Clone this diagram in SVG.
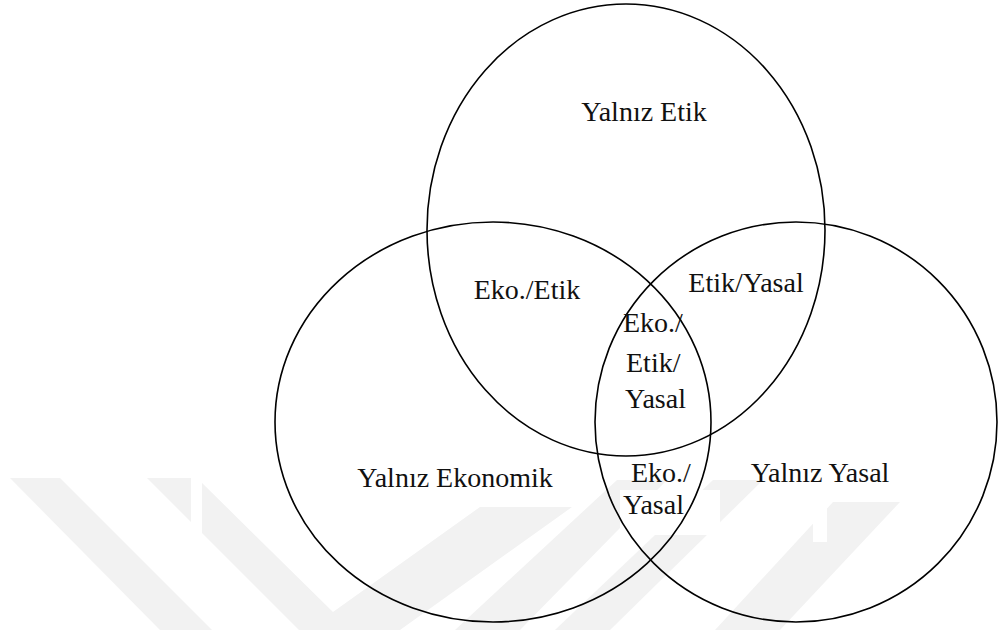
<svg xmlns="http://www.w3.org/2000/svg" width="998" height="630" viewBox="0 0 998 630">
  <style>
    .set { fill: none; stroke: #000; stroke-width: 1.6; }
    .lbl { font-size: 28px; fill: #111; }
    .mid { text-anchor: middle; }
    .wm { fill: #f2f2f2; }
    .pad { fill: #fff; }
  </style>
  <rect width="998" height="630" fill="#fff"/>

  <!-- faint background chevron mark -->
  <g id="backdrop-mark">
    <polygon class="wm" points="10,478 60,478 212,630 160,630"/>
    <polygon class="wm" points="147,478 197,478 333,612 480,507 572,507 400,630 299,630"/>
    <polygon class="wm" points="617,480 667,480 520,630 455,630"/>
    <polygon class="wm" points="713,480 763,480 610,630 555,630"/>
    <polygon class="wm" points="833,502 900,502 780,630 715,630"/>
    <!-- white label pads covering the mark -->
    <rect class="pad" x="191" y="477" width="11" height="63"/>
    <rect class="pad" x="620" y="490" width="100" height="45"/>
    <rect class="pad" x="763" y="470" width="110" height="32"/>
    <rect class="pad" x="813" y="502" width="14" height="40"/>
  </g>

  <!-- the three sets -->
  <g id="set-etik">
    <ellipse class="set" cx="626" cy="230" rx="199" ry="226"/>
  </g>
  <g id="set-ekonomik">
    <ellipse class="set" cx="493" cy="422" rx="218" ry="200"/>
  </g>
  <g id="set-yasal">
    <ellipse class="set" cx="796" cy="422" rx="201" ry="200"/>
  </g>

  <!-- region labels -->
  <g font-family="'Liberation Serif', 'Times New Roman', serif">
    <g id="region-etik"><text class="lbl mid" x="644" y="121">Yalnız Etik</text></g>
    <g id="region-eko-etik"><text class="lbl mid" x="527" y="299">Eko./Etik</text></g>
    <g id="region-etik-yasal"><text class="lbl mid" x="746" y="292">Etik/Yasal</text></g>
    <g id="region-all">
      <text class="lbl" x="623" y="332">Eko./</text>
      <text class="lbl" x="626" y="372">Etik/</text>
      <text class="lbl" x="625" y="408">Yasal</text>
    </g>
    <g id="region-ekonomik"><text class="lbl mid" x="455" y="487">Yalnız Ekonomik</text></g>
    <g id="region-eko-yasal">
      <text class="lbl" x="631" y="482">Eko./</text>
      <text class="lbl" x="623" y="514">Yasal</text>
    </g>
    <g id="region-yasal"><text class="lbl mid" x="820" y="482">Yalnız Yasal</text></g>
  </g>
</svg>
